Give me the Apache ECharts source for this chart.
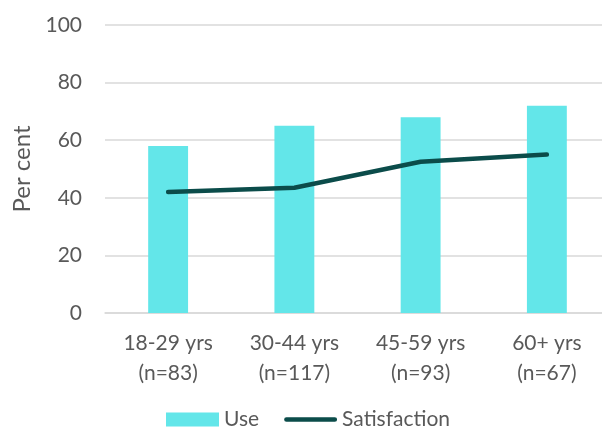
<!DOCTYPE html>
<html>
<head>
<meta charset="utf-8">
<script src="https://cdn.jsdelivr.net/npm/echarts@6/dist/echarts.min.js"></script>
<style>
  html, body { margin: 0; padding: 0; background: #fff; overflow: hidden; }
  #chart { width: 610px; height: 435px; }
</style>
</head>
<body>
<div id="chart"></div>
<script>
// Age groups with sample sizes
const categories = ['18-29 yrs\n(n=83)', '30-44 yrs\n(n=117)', '45-59 yrs\n(n=93)', '60+ yrs\n(n=67)'];
// Percent who use the service
const useValues = [58, 65, 68, 72];
// Percent satisfied
const satisfactionValues = [42, 43.5, 52.5, 55];
// Y axis range
const yMin = 0, yMax = 100, yStep = 20;

const textColor = '#595959';
const fontFamily = 'Lato, "Open Sans", sans-serif';
const lineColor = '#0B4C4A';

// Rounded bar used as the legend marker for the line series
const lineIcon = 'path://M2.5,0 L53.5,0 A2.5,2.5 0 0 1 53.5,5 L2.5,5 A2.5,2.5 0 0 1 2.5,0 Z';

const chart = echarts.init(document.getElementById('chart'), null, { renderer: 'canvas' });
chart.setOption({
  animation: false,
  textStyle: { fontFamily: fontFamily, color: textColor },
  grid: { left: 105, top: 25, right: 0, height: 288, containLabel: false },
  legend: {
    top: 409,
    left: 166,
    padding: 0,
    itemWidth: 53,
    itemHeight: 14,
    itemGap: 25,
    textStyle: { fontSize: 21, color: textColor, fontFamily: fontFamily },
    data: [
      { name: 'Use', icon: 'rect' },
      { name: 'Satisfaction', icon: lineIcon, itemStyle: { color: lineColor } }
    ]
  },
  xAxis: {
    type: 'category',
    data: categories,
    axisLine: { lineStyle: { color: '#d9d9d9', width: 1.5 } },
    axisTick: { show: false },
    axisLabel: { fontSize: 21, color: textColor, lineHeight: 30, margin: 15, fontFamily: fontFamily }
  },
  yAxis: {
    type: 'value',
    min: yMin, max: yMax, interval: yStep,
    name: 'Per cent',
    nameLocation: 'middle',
    nameGap: 68,
    nameTextStyle: { fontSize: 24, color: textColor, fontFamily: fontFamily },
    axisLine: { show: false },
    axisTick: { show: false },
    axisLabel: { fontSize: 21, color: textColor, margin: 23, fontFamily: fontFamily },
    splitLine: { lineStyle: { color: '#d9d9d9', width: 1.5 } }
  },
  series: [
    {
      name: 'Use',
      type: 'bar',
      data: useValues,
      barWidth: '31.6%',
      itemStyle: { color: '#63E6E9' }
    },
    {
      name: 'Satisfaction',
      type: 'line',
      data: satisfactionValues,
      symbol: 'none',
      lineStyle: { color: lineColor, width: 4.5, cap: 'round', join: 'round' },
      itemStyle: { color: lineColor }
    }
  ]
});
</script>
</body>
</html>
